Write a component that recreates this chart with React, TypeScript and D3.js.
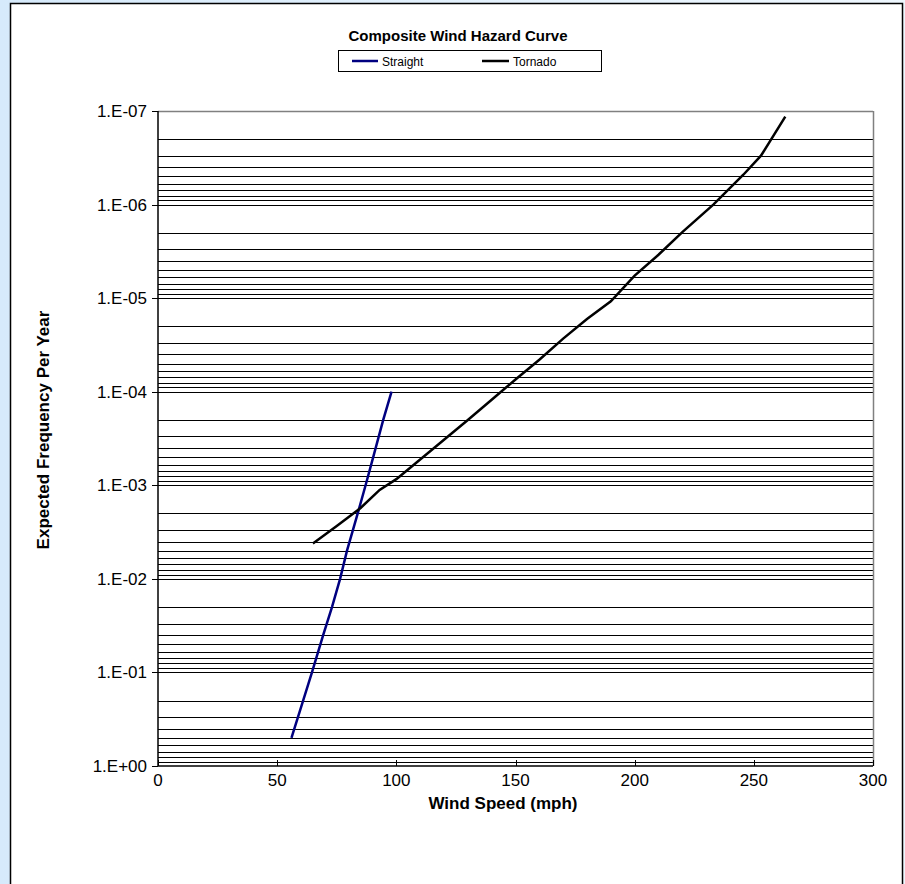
import React from "react";
import * as d3 from "d3";

const straightSpeed = [56, 64.6, 69.3, 73, 76.4, 79.3, 83.8, 87.1, 90.3, 94.5, 98];
const straightFreq = [0.5, 0.1, 0.04, 0.02, 0.01, 0.005, 0.002, 0.001, 5e-4, 2e-4, 1e-4];

const tornadoSpeed = [65, 75, 85, 93, 100, 110, 120, 130, 140, 150, 160, 170, 180, 190, 200, 210, 220, 233, 245.6, 253, 263.2];
const tornadoFreq = [4.2e-3, 2.72e-3, 1.75e-3, 1.12e-3, 8.6e-4, 5.3e-4, 3.26e-4, 2.01e-4, 1.22e-4, 7.4e-5, 4.55e-5, 2.71e-5, 1.67e-5, 1.08e-5, 5.75e-6, 3.44e-6, 1.97e-6, 1e-6, 4.8e-7, 3e-7, 1.15e-7];

const xTicks = [0, 50, 100, 150, 200, 250, 300];
const yMajor = [1, 1e-1, 1e-2, 1e-3, 1e-4, 1e-5, 1e-6, 1e-7];
const yLabels = ["1.E+00", "1.E-01", "1.E-02", "1.E-03", "1.E-04", "1.E-05", "1.E-06", "1.E-07"];
const seriesNames = ["Straight", "Tornado"];
const seriesColors = ["#000080", "#000000"];

export default function App() {
  const W = 905, H = 884;
  const left = 158, right = 873, top = 111, bottom = 766;
  const x = d3.scaleLinear().domain([0, 300]).range([left, right]);
  const y = d3.scaleLog().domain([1, 1e-7]).range([bottom, top]);

  const grid: number[] = [];
  for (let e = 0; e > -7; e--) {
    for (let m = 1; m <= 9; m++) {
      grid.push(m * Math.pow(10, e - 1));
    }
  }

  const line = d3
    .line<[number, number]>()
    .x((d) => x(d[0]))
    .y((d) => y(d[1]));

  const straight = straightSpeed.map((s, i) => [s, straightFreq[i]] as [number, number]);
  const tornado = tornadoSpeed.map((s, i) => [s, tornadoFreq[i]] as [number, number]);
  const font = "Arial, 'Liberation Sans', sans-serif";

  return (
    <svg
      width={W}
      height={H}
      style={{ position: "absolute", left: 0, top: 0 }}
      fontFamily={font}
    >
      <defs>
        <linearGradient id="bg" x1="0" y1="0" x2="1" y2="0">
          <stop offset="0" stopColor="#d6eafb" />
          <stop offset="1" stopColor="#eef7fe" />
        </linearGradient>
      </defs>
      <rect x={0} y={0} width={W} height={H} fill="url(#bg)" />
      <rect x={10.5} y={3.5} width={892} height={H + 10} fill="#fff" stroke="#000" strokeWidth={1.5} />

      <text x={458} y={41} textAnchor="middle" fontSize={15} fontWeight="bold">
        Composite Wind Hazard Curve
      </text>

      <rect x={338.5} y={50.5} width={263} height={21} fill="#fff" stroke="#000" strokeWidth={1} />
      <line x1={352} x2={378} y1={61} y2={61} stroke={seriesColors[0]} strokeWidth={2.5} />
      <text x={382} y={65.5} fontSize={12}>{seriesNames[0]}</text>
      <line x1={482} x2={509} y1={61} y2={61} stroke={seriesColors[1]} strokeWidth={2.5} />
      <text x={513} y={65.5} fontSize={12}>{seriesNames[1]}</text>

      {grid.map((v, i) => (
        <line key={i} x1={left} x2={right} y1={Math.round(y(v)) + 0.5} y2={Math.round(y(v)) + 0.5} stroke="#000" strokeWidth={1} />
      ))}
      <line x1={left} x2={right} y1={top + 0.5} y2={top + 0.5} stroke="#808080" strokeWidth={1.5} />
      <line x1={right + 0.5} x2={right + 0.5} y1={top} y2={bottom} stroke="#808080" strokeWidth={1.5} />
      <line x1={left} x2={left} y1={top} y2={bottom} stroke="#000" strokeWidth={1.5} />
      <line x1={left} x2={right} y1={bottom} y2={bottom} stroke="#000" strokeWidth={1.5} />

      {yMajor.map((v, i) => (
        <g key={i}>
          <line x1={left - 6} x2={left} y1={Math.round(y(v)) + 0.5} y2={Math.round(y(v)) + 0.5} stroke="#000" />
          <text x={left - 11} y={y(v) + 6} textAnchor="end" fontSize={17}>
            {yLabels[i]}
          </text>
        </g>
      ))}
      {xTicks.map((t, i) => (
        <g key={i}>
          <line x1={Math.round(x(t)) + 0.5} x2={Math.round(x(t)) + 0.5} y1={bottom - 6} y2={bottom} stroke="#000" />
          <text x={x(t)} y={bottom + 20} textAnchor="middle" fontSize={17}>
            {t}
          </text>
        </g>
      ))}

      <text x={503} y={797} textAnchor="middle" fontSize={17} fontWeight="bold" dominantBaseline="hanging">
        Wind Speed (mph)
      </text>
      <text
        transform={`translate(49, 430) rotate(-90)`}
        textAnchor="middle"
        fontSize={17}
        fontWeight="bold"
      >
        Expected Frequency Per Year
      </text>

      <path d={line(straight) || ""} fill="none" stroke={seriesColors[0]} strokeWidth={2.5} />
      <path d={line(tornado) || ""} fill="none" stroke={seriesColors[1]} strokeWidth={2.5} />
    </svg>
  );
}
